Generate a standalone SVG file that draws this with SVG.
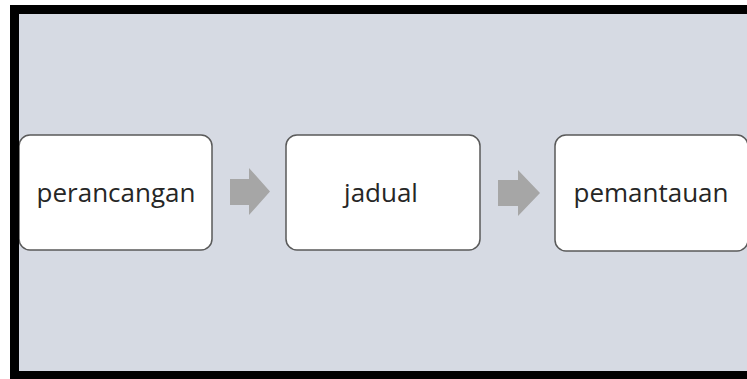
<svg xmlns="http://www.w3.org/2000/svg" width="747" height="379" viewBox="0 0 747 379">
  <defs>
    <style>
      .frame { fill: #000000; }
      .panel { fill: #d6dae3; }
      .box { fill: #ffffff; stroke: #5a5a5a; stroke-width: 1.5; }
      .label { font-family: "Open Sans", "Noto Sans", sans-serif; font-size: 26px; fill: #262626; text-anchor: middle; }
      .arrow { fill: #a6a6a6; }
    </style>
    <clipPath id="panelClip">
      <rect x="19" y="14" width="728" height="357"/>
    </clipPath>
  </defs>

  <!-- page, black frame and grey panel -->
  <rect x="0" y="0" width="747" height="379" fill="#ffffff"/>
  <rect class="frame" x="10" y="5" width="737" height="374"/>
  <rect class="panel" x="19" y="14" width="728" height="357"/>

  <g clip-path="url(#panelClip)">
    <!-- connectors -->
    <g id="connectors">
      <path class="arrow" d="M230 179 H249 V168 L270 191.5 L249 215 V205 H230 Z"/>
      <path class="arrow" d="M498 180 H518 V170 L540 193 L518 216 V206 H498 Z"/>
    </g>

    <g id="node-perancangan">
      <rect class="box" x="19" y="135" width="193" height="115" rx="11"/>
      <text class="label" x="116" y="202">perancangan</text>
    </g>

    <g id="node-jadual">
      <rect class="box" x="286" y="135" width="194" height="115" rx="11"/>
      <text class="label" x="381" y="202">jadual</text>
    </g>

    <g id="node-pemantauan">
      <rect class="box" x="555" y="135" width="193" height="116" rx="11"/>
      <text class="label" x="651" y="202">pemantauan</text>
    </g>
  </g>
</svg>
